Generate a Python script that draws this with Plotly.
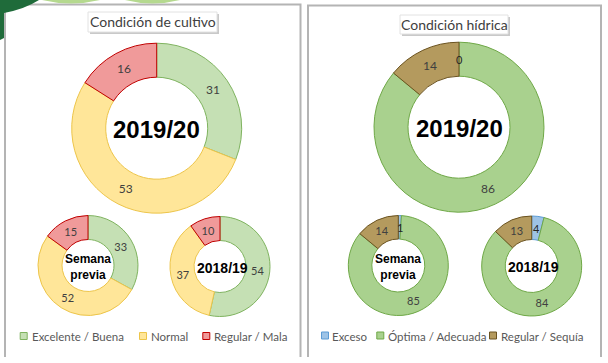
import math
import plotly.graph_objects as go

W, H = 608, 363

# ---------------- data ----------------
cultivo_labels = ["Excelente / Buena", "Normal", "Regular / Mala"]
cultivo_2019_20 = [31, 53, 16]
cultivo_semana_previa = [33, 52, 15]
cultivo_2018_19 = [54, 37, 10]

hidrica_labels = ["Exceso", "Óptima / Adecuada", "Regular / Sequía"]
hidrica_2019_20 = [0, 86, 14]
hidrica_semana_previa = [1, 85, 14]
hidrica_2018_19 = [4, 84, 13]

center_texts = ["2019/20", "Semana<br>previa", "2018/19"]
panel_titles = ["Condición de cultivo", "Condición hídrica"]

# ---------------- styles ----------------
cultivo_fill = ["#C5E0B4", "#FFE699", "#F09A9A"]
cultivo_line = ["#7FB35F", "#EDC54A", "#C00000"]
hidrica_fill = ["#9DC3E6", "#A9D18E", "#B49A5E"]
hidrica_line = ["#5B9BD5", "#6FA847", "#6B5320"]

LABEL_FONT = "Lato, Carlito, 'Open Sans', sans-serif"
CENTER_FONT = "'Liberation Sans', Arial, sans-serif"
SMALL_SHARE = 0.05  # slices below this share get their label at mid-ring


def px_x(v):
    return v / W


def px_y(v):
    return 1 - v / H


def dom(cx, cy, r):
    return dict(x=[(cx - r) / W, (cx + r) / W], y=[1 - (cy + r) / H, 1 - (cy - r) / H])


# donut geometry: (cx, cy, r, hole)
donuts = [
    (cultivo_labels, cultivo_2019_20, cultivo_fill, cultivo_line, (156.7, 128.2, 85, 0.60), 0, 12),
    (cultivo_labels, cultivo_semana_previa, cultivo_fill, cultivo_line, (88.0, 265.5, 50, 0.52), 1, 11),
    (cultivo_labels, cultivo_2018_19, cultivo_fill, cultivo_line, (220.0, 266.5, 50, 0.52), 2, 11),
    (hidrica_labels, hidrica_2019_20, hidrica_fill, hidrica_line, (459.0, 127.2, 85, 0.60), 0, 12),
    (hidrica_labels, hidrica_semana_previa, hidrica_fill, hidrica_line, (398.3, 265.5, 50, 0.53), 1, 11),
    (hidrica_labels, hidrica_2018_19, hidrica_fill, hidrica_line, (531.7, 266.0, 50, 0.53), 2, 11),
]

fig = go.Figure()
annotations = []
shapes = []

for labels, vals, fills, lines, (cx, cy, r, hole), ci, fs in donuts:
    total = sum(vals)
    texts = [str(v) if v / total >= SMALL_SHARE else "" for v in vals]
    fig.add_trace(go.Pie(
        labels=labels, values=vals, sort=False, direction="clockwise", rotation=0,
        hole=hole, domain=dom(cx, cy, r),
        marker=dict(colors=fills, line=dict(color=lines, width=1)),
        text=texts, textinfo="text", textposition="inside", insidetextorientation="horizontal",
        textfont=dict(family=LABEL_FONT, size=fs, color="#404040"),
        showlegend=False, hoverinfo="label+value",
    ))
    # labels for very small / zero slices, placed at the middle of the ring
    cum = 0
    for v in vals:
        if v / total < SMALL_SHARE:
            ang = math.radians(360 * (cum + v / 2) / total)
            rm = r * (1 + hole) / 2
            annotations.append(dict(
                x=px_x(cx + rm * math.sin(ang)), y=px_y(cy - rm * math.cos(ang)),
                xref="paper", yref="paper", text=str(v), showarrow=False,
                font=dict(family=LABEL_FONT, size=11, color="#262626"),
                xanchor="center", yanchor="middle"))
        cum += v
    # centre text
    if ci == 0:
        annotations.append(dict(x=px_x(cx), y=px_y(cy + 1.5), xref="paper", yref="paper",
                                text="<b>" + center_texts[ci] + "</b>", showarrow=False,
                                font=dict(family=CENTER_FONT, size=24, color="#000000"),
                                xanchor="center", yanchor="middle"))
    elif ci == 1:
        annotations.append(dict(x=px_x(cx), y=px_y(cy + 1.5), xref="paper", yref="paper",
                                text="<b>" + center_texts[ci] + "</b>", showarrow=False,
                                font=dict(family=CENTER_FONT, size=12, color="#000000"),
                                xanchor="center", yanchor="middle"))
    else:
        annotations.append(dict(x=px_x(cx + 2), y=px_y(cy + 1), xref="paper", yref="paper",
                                text="<b>" + center_texts[ci] + "</b>", showarrow=False,
                                font=dict(family=CENTER_FONT, size=14, color="#000000"),
                                xanchor="center", yanchor="middle"))

# ---------------- panel frames ----------------
frame_col = "#B4B4B4"
for (x0, x1, ytop) in [(5, 300.5, 4.5), (308, 601, 5.5)]:
    shapes.append(dict(type="path", xref="paper", yref="paper",
                       path=f"M{px_x(x0)},{px_y(357)} L{px_x(x0)},{px_y(ytop)} L{px_x(x1)},{px_y(ytop)} L{px_x(x1)},{px_y(357)}",
                       line=dict(color=frame_col, width=2)))

# top-left decoration
shapes.append(dict(type="path", xref="paper", yref="paper",
                   path=f"M{px_x(0)},{px_y(0)} L{px_x(39)},{px_y(0)} Q{px_x(25)},{px_y(9)} {px_x(4)},{px_y(13)} L{px_x(4)},{px_y(38)} L{px_x(0)},{px_y(40)} Z",
                   fillcolor="#1F6B3A", line=dict(width=0)))
for (a, b) in [(42, 100), (125, 180)]:
    shapes.append(dict(type="path", xref="paper", yref="paper",
                       path=f"M{px_x(a)},{px_y(0)} Q{px_x((a+b)/2)},{px_y(7)} {px_x(b)},{px_y(0)} Z",
                       fillcolor="#B5D98F", line=dict(width=0)))

# ---------------- title boxes ----------------
for (bx0, by0, bx1, by1), title in zip([(88, 12, 217, 32), (400, 15, 508, 34)], panel_titles):
    shapes.append(dict(type="rect", xref="paper", yref="paper",
                       x0=px_x(bx0 + 2), x1=px_x(bx1 + 2), y0=px_y(by1 + 2), y1=px_y(by0 + 2),
                       fillcolor="#C9C9C9", line=dict(width=0)))
    shapes.append(dict(type="rect", xref="paper", yref="paper",
                       x0=px_x(bx0), x1=px_x(bx1), y0=px_y(by1), y1=px_y(by0),
                       fillcolor="#FFFFFF", line=dict(color="#E2E2E2", width=1)))
    annotations.append(dict(x=px_x((bx0 + bx1) / 2), y=px_y((by0 + by1) / 2), xref="paper", yref="paper",
                            text=title, showarrow=False,
                            font=dict(family=LABEL_FONT, size=14, color="#404040"),
                            xanchor="center", yanchor="middle"))

# ---------------- legends ----------------
legend_specs = [
    (cultivo_labels, cultivo_fill, cultivo_line, [23.7, 143.0, 206.3], [29.5, 148.5, 211.5], 336),
    (hidrica_labels, hidrica_fill, hidrica_line, [325.0, 380.3, 493.0], [329.5, 385.5, 498.5], 335.5),
]
for labels, fills, lines, sq_x, tx_x, ly in legend_specs:
    for lab, fc, lc, sx, tx in zip(labels, fills, lines, sq_x, tx_x):
        shapes.append(dict(type="rect", xref="paper", yref="paper",
                           x0=px_x(sx - 3.5), x1=px_x(sx + 3.5), y0=px_y(ly + 3.5), y1=px_y(ly - 3.5),
                           fillcolor=fc, line=dict(color=lc, width=1)))
        annotations.append(dict(x=px_x(tx), y=px_y(ly + 0.5), xref="paper", yref="paper",
                                text=lab, showarrow=False,
                                font=dict(family=LABEL_FONT, size=11.5, color="#595959"),
                                xanchor="left", yanchor="middle"))

fig.update_layout(
    width=W, height=H, autosize=False,
    margin=dict(l=0, r=0, t=0, b=0),
    paper_bgcolor="#FFFFFF", plot_bgcolor="#FFFFFF",
    uniformtext=dict(minsize=11, mode="show"),
    shapes=shapes, annotations=annotations,
    showlegend=False,
)

fig.write_html("out.html", config={"displayModeBar": False},
               post_script="document.body.style.margin='0';")
